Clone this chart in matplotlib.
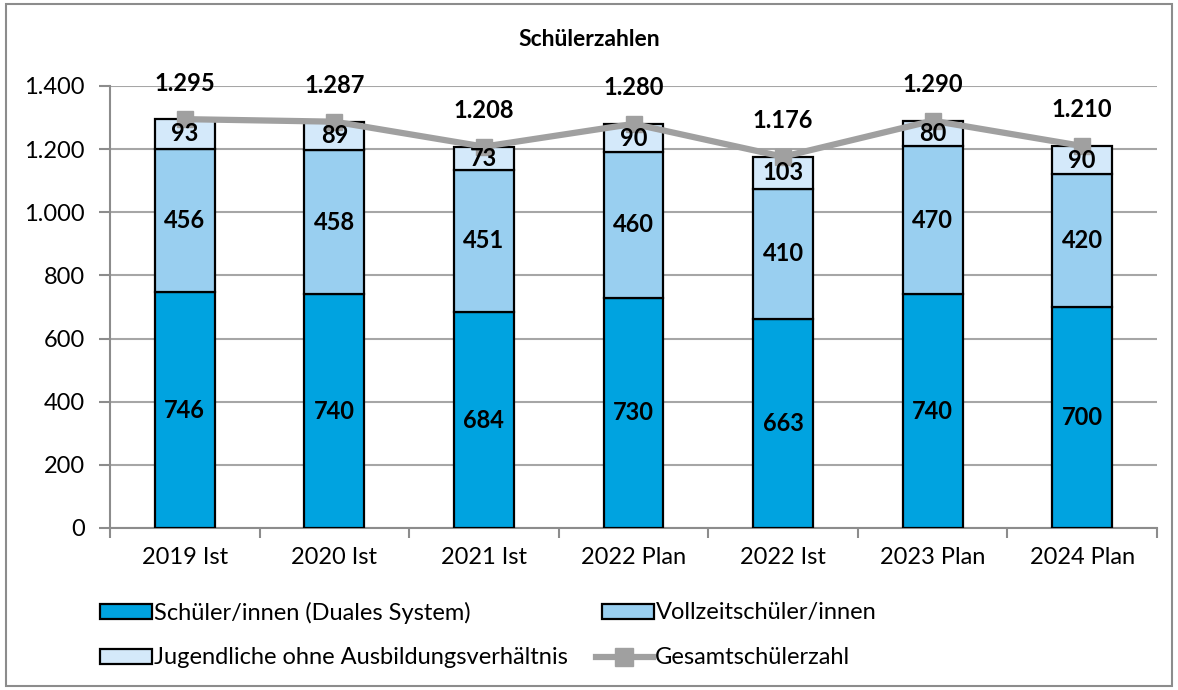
import numpy as np
import matplotlib
matplotlib.use("Agg")
import matplotlib.pyplot as plt
from matplotlib.patches import Patch, Rectangle
from matplotlib.lines import Line2D
from matplotlib.ticker import FuncFormatter, FixedLocator

plt.rcParams['font.family'] = ['Lato', 'DejaVu Sans']

categories = ["2019 Ist", "2020 Ist", "2021 Ist", "2022 Plan", "2022 Ist", "2023 Plan", "2024 Plan"]
duales = [746, 740, 684, 730, 663, 740, 700]
vollzeit = [456, 458, 451, 460, 410, 470, 420]
ohne_ausb = [93, 89, 73, 90, 103, 80, 90]
gesamt = [1295, 1287, 1208, 1280, 1176, 1290, 1210]

c_dark = "#00A3E0"
c_mid = "#99CFF0"
c_light = "#D4E9FA"
c_line = "#A0A0A0"
c_axis = "#8C8C8C"

fig = plt.figure(figsize=(11.78, 6.9), dpi=100)
ax = fig.add_axes([110/1178, 1-528/690, (1157-110)/1178, (528-86)/690])

x = np.arange(len(categories))
w = 0.4
ax.bar(x, duales, w, color=c_dark, edgecolor="black", linewidth=1.6, zorder=3)
ax.bar(x, vollzeit, w, bottom=duales, color=c_mid, edgecolor="black", linewidth=1.6, zorder=3)
bot3 = np.array(duales) + np.array(vollzeit)
ax.bar(x, ohne_ausb, w, bottom=bot3, color=c_light, edgecolor="black", linewidth=1.6, zorder=3)

ax.plot(x, gesamt, color=c_line, lw=4.5, marker="s", markersize=11, zorder=4)

# segment labels
lab = dict(ha="center", va="center", fontsize=17, fontweight="bold", zorder=5)
for i in range(len(x)):
    ax.text(x[i], duales[i]/2, str(duales[i]), **lab)
    ax.text(x[i], duales[i] + vollzeit[i]/2, str(vollzeit[i]), **lab)
    ax.text(x[i], bot3[i] + ohne_ausb[i]/2, str(ohne_ausb[i]), **lab)
    tot = f"{gesamt[i]:,}".replace(",", ".")
    ax.annotate(tot, (x[i], gesamt[i]), xytext=(0, 26), textcoords="offset points",
                ha="center", va="center", fontsize=17, fontweight="bold", zorder=6)

ax.set_xlim(-0.5, len(x) - 0.5)
ax.set_ylim(0, 1400)
ax.set_yticks(np.arange(0, 1401, 200))
ax.yaxis.set_major_formatter(FuncFormatter(lambda v, p: f"{int(v):,}".replace(",", ".")))
ax.set_xticks(x)
ax.set_xticklabels(categories)
ax.xaxis.set_minor_locator(FixedLocator(np.arange(-0.5, len(x), 1.0)))
ax.tick_params(axis="x", which="major", length=0, pad=14, labelsize=17)
ax.tick_params(axis="x", which="minor", length=7, width=1.5, color=c_axis)
ax.tick_params(axis="y", length=8, width=1.5, color=c_axis, pad=10, labelsize=17)

ax.grid(axis="y", color="#A6A6A6", lw=1.5, zorder=0)
for s in ["top", "right"]:
    ax.spines[s].set_visible(False)
for s in ["left", "bottom"]:
    ax.spines[s].set_color(c_axis)
    ax.spines[s].set_linewidth(1.5)
    ax.spines[s].set_zorder(2)

fig.text(0.5, 1-40/690, "Schülerzahlen", ha="center", va="center", fontsize=16.5, fontweight="bold")

# legend, Excel-style free flow
def leg(handle, label, xpos, ypos, hl=2.2):
    lg = fig.legend([handle], [label], loc="center left", bbox_to_anchor=(xpos, ypos),
                    frameon=False, fontsize=17, handlelength=hl, handleheight=0.62,
                    handletextpad=0.1, borderaxespad=0, borderpad=0)
    return lg

pk = dict(edgecolor="black", linewidth=1.6)
leg(Patch(facecolor=c_dark, **pk), "Schüler/innen (Duales System)", 100/1178, 1-613/690)
leg(Patch(facecolor=c_mid, **pk), "Vollzeitschüler/innen", 602/1178, 1-613/690)
leg(Patch(facecolor=c_light, **pk), "Jugendliche ohne Ausbildungsverhältnis", 100/1178, 1-658/690)
leg(Line2D([], [], color=c_line, lw=4.5, marker="s", markersize=13),
    "Gesamtschülerzahl", 596/1178, 1-658/690, hl=2.4)

fig.patches.append(Rectangle((6/1178, 4/690), 1166/1178, 682/690, transform=fig.transFigure,
                             fill=False, edgecolor="#8C8C8C", linewidth=1.5))

fig.savefig("out.png", dpi=100)
